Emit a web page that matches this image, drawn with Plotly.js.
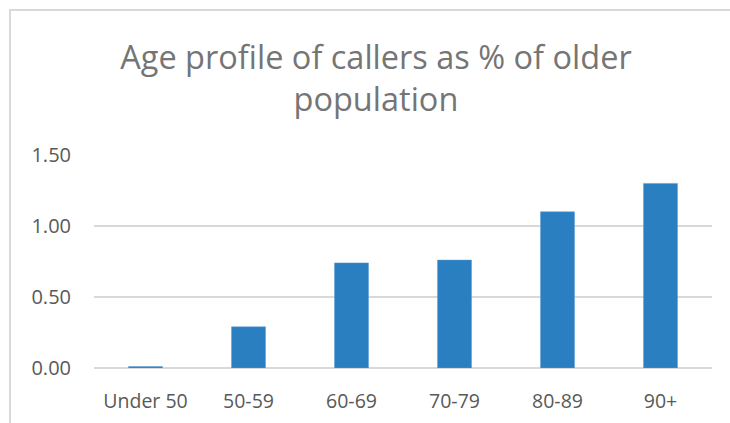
<!DOCTYPE html>
<html>
<head>
<meta charset="utf-8">
<script src="https://cdn.plot.ly/plotly-3.0.1.min.js"></script>
<style>
  html, body { margin: 0; padding: 0; background: #fff; overflow: hidden; }
  #wrap { position: relative; width: 730px; height: 423px; }
  #chart { position: absolute; left: 0; top: 0; width: 730px; height: 423px; }
  #frame { position: absolute; left: 9px; top: 9px; width: 740px; height: 440px;
           border: 2px solid #d9d9d9; box-sizing: border-box; pointer-events: none; }
</style>
</head>
<body>
<div id="wrap">
  <div id="chart"></div>
  <div id="frame"></div>
</div>
<script>
const categories = ["Under 50", "50-59", "60-69", "70-79", "80-89", "90+"];
const values = [0.01, 0.29, 0.74, 0.76, 1.10, 1.30];
const yTicks = [0, 0.5, 1.0, 1.5];
const yTickLabels = ["0.00", "0.50", "1.00", "1.50"];
const titleText = "Age profile of callers as % of older<br>population";

const trace = {
  type: "bar",
  x: categories,
  y: values,
  marker: { color: "#2a7fc1", line: { color: "#5b9bd5", width: 0.5 } },
  hoverinfo: "x+y"
};

const layout = {
  width: 730,
  height: 423,
  margin: { l: 94, r: 18, t: 155, b: 55 },
  paper_bgcolor: "#ffffff",
  plot_bgcolor: "#ffffff",
  bargap: 0.67,
  showlegend: false,
  font: { family: "Open Sans, Liberation Sans, sans-serif", color: "#595959", size: 19.5 },
  title: {
    text: titleText,
    font: { family: "Open Sans, sans-serif", size: 32.5, color: "#757575" },
    x: 0.515, xanchor: "center",
    y: 0.838, yanchor: "middle",
    xref: "container", yref: "container"
  },
  xaxis: {
    type: "category",
    showgrid: false,
    showline: false,
    ticks: "",
    tickfont: { size: 19.5, color: "#595959" },
    ticklabelstandoff: 19
  },
  yaxis: {
    range: [0, 1.5],
    tickvals: yTicks,
    ticktext: yTickLabels,
    showgrid: true,
    gridcolor: "#d9d9d9",
    gridwidth: 1.5,
    zeroline: true,
    zerolinecolor: "#d9d9d9",
    zerolinewidth: 1.5,
    ticks: "",
    tickfont: { size: 20, color: "#595959" },
    ticklabelstandoff: 22
  }
};

Plotly.newPlot("chart", [trace], layout, { displayModeBar: false, staticPlot: true });
</script>
</body>
</html>
